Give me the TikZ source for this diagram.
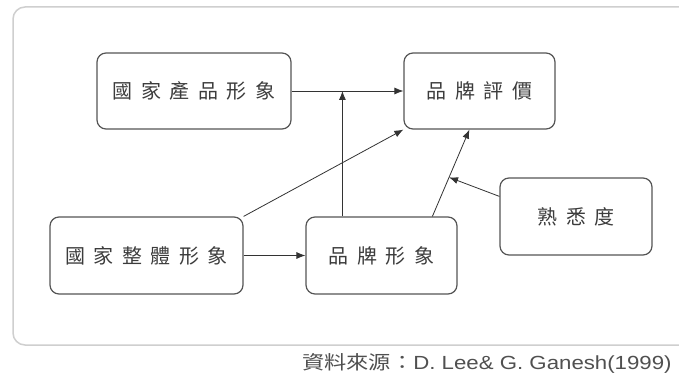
\documentclass[tikz,border=0pt]{standalone}
\usepackage{fontspec}
\setmainfont{Liberation Sans}
\newfontfamily\cjk{Noto Sans CJK TC}
\usetikzlibrary{arrows.meta,calc}
\definecolor{boxline}{HTML}{555555}
\definecolor{textgray}{HTML}{3C3C3C}
\definecolor{framegray}{HTML}{CFCFCF}
\definecolor{capgray}{HTML}{505050}
\newcommand{\ks}{\kern8.5pt}
\tikzset{
  box/.style={draw=boxline, line width=1.2pt, rounded corners=9pt, inner sep=0pt,
    font=\cjk\fontsize{20}{22}\selectfont, text=textgray},
  arr/.style={-{Latex[length=9pt,width=7pt]}, line width=0.8pt, draw=black!80}
}
\begin{document}
\begin{tikzpicture}[x=1pt,y=-1pt]
\useasboundingbox (0,0) rectangle (679,379);
\fill[white] (0,0) rectangle (679,379);
\draw[framegray, line width=1.5pt, rounded corners=12pt] (13,7) rectangle (700,345);

\node[box, minimum width=194pt, minimum height=76pt] (A) at (194,91) {國\ks 家\ks 產\ks 品\ks 形\ks 象};
\node[box, minimum width=151pt, minimum height=76pt] (B) at (479.5,91) {品\ks 牌\ks 評\ks 價};
\node[box, minimum width=193pt, minimum height=77pt] (C) at (146.5,255.5) {國\ks 家\ks 整\ks 體\ks 形\ks 象};
\node[box, minimum width=151pt, minimum height=77pt] (D) at (381.5,255.5) {品\ks 牌\ks 形\ks 象};
\node[box, minimum width=152pt, minimum height=77pt] (E) at (576,216.5) {熟\ks 悉\ks 度};

\coordinate (d1) at ($(D.north west)+(37,0)$);
\coordinate (d2) at ($(D.north west)+(127,0)$);
\coordinate (b2) at ($(B.south west)+(66,0)$);
\coordinate (e1) at ($(E.north west)+(0,19)$);
\coordinate (f) at ($(d2)!0.45!(b2)$);

\draw[arr] (A.east) -- (B.west);
\draw[arr] (d1) -- (d1 |- A.east);
\draw[arr] (C.north east) -- (B.south west);
\draw[arr] (C.east) -- (D.west);
\draw[arr] (d2) -- (b2);
\draw[arr] (e1) -- (f);

\node[anchor=west, text=capgray, inner sep=0pt, font=\fontsize{19}{21}\selectfont] (cap) at (302,363)
  {\scalebox{1.17}[1]{{\cjk 資料來源：}D. Lee\& G. Ganesh(1999)}};
\end{tikzpicture}
\end{document}
